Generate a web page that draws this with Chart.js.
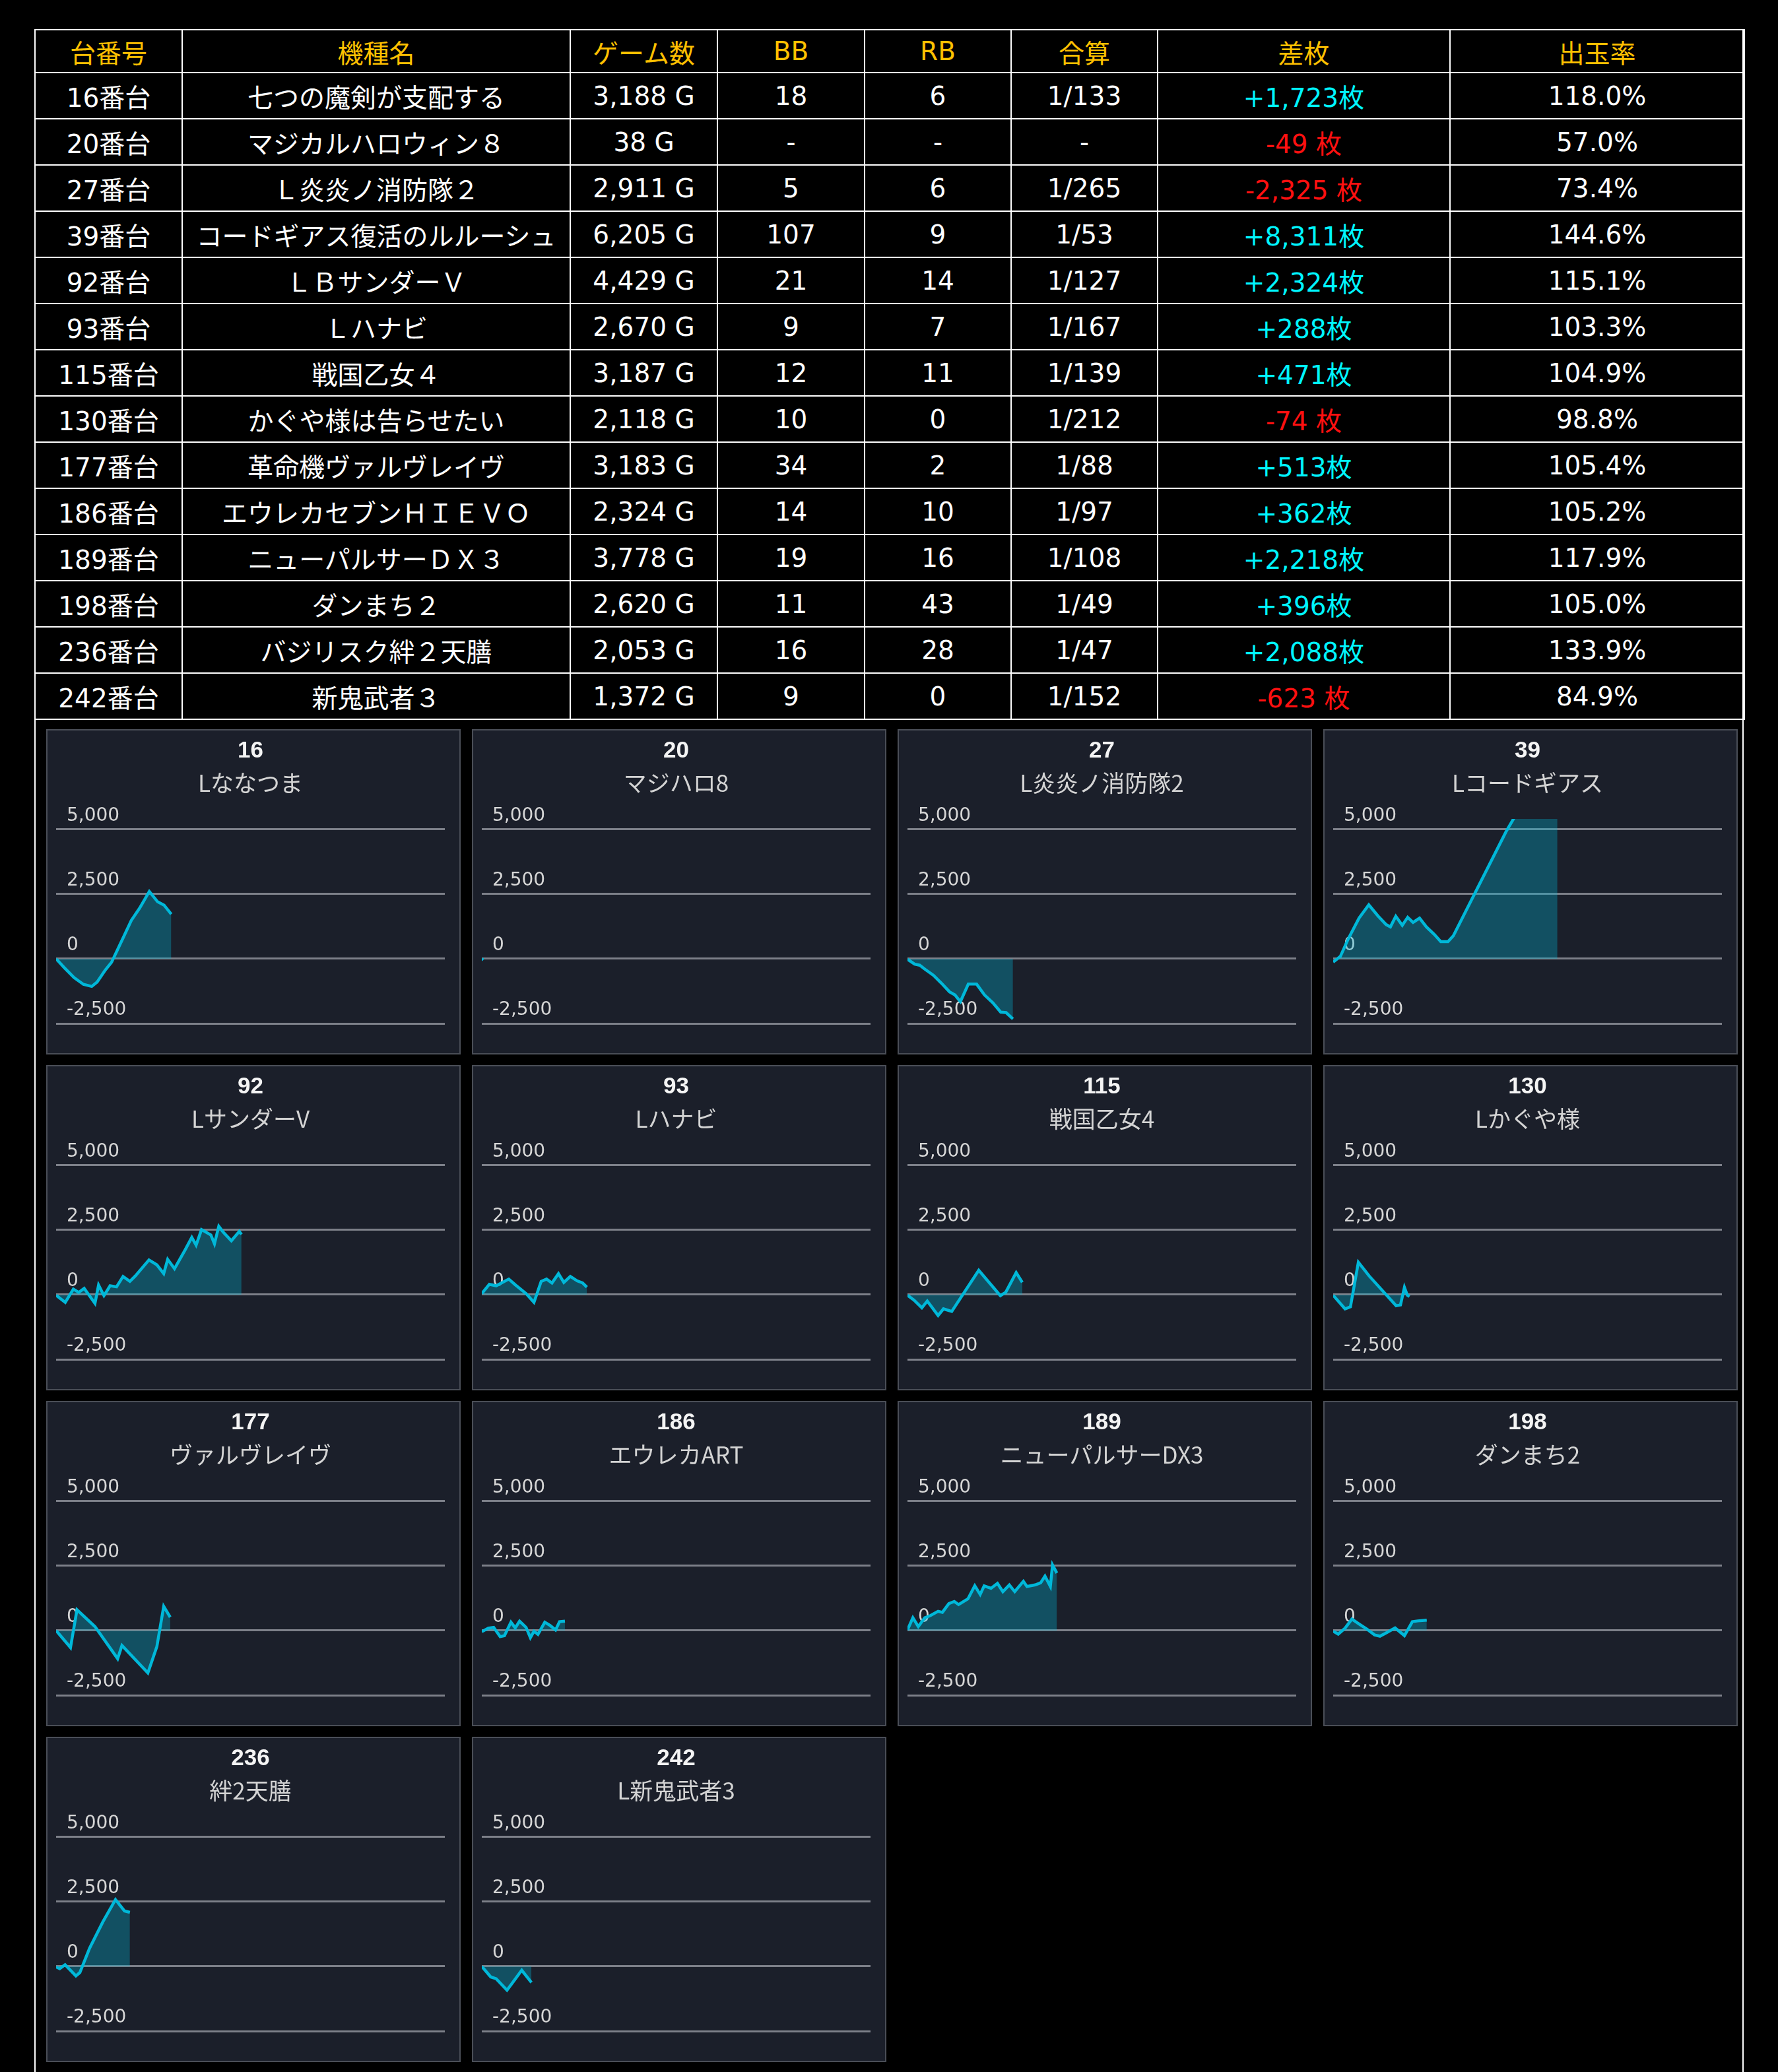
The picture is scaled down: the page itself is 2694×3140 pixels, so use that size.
<!DOCTYPE html>
<html lang="ja">
<head>
<meta charset="UTF-8">
<title>台データ</title>
<script src="https://cdn.jsdelivr.net/npm/chart.js"></script>
<style>
  body { margin: 0; background: #000; }
  #frame {
    position: absolute; left: 52px; top: 44px; width: 2590px; height: 3200px;
    box-sizing: border-box; border-left: 2px solid #fff; border-right: 2px solid #fff;
  }
  #tbl {
    position: absolute; left: 52px; top: 44px; width: 2590px;
    border-collapse: collapse; table-layout: fixed;
    font-family: 'DejaVu Sans', 'Noto Sans CJK JP', sans-serif; font-size: 39px; color: #fff;
  }
  #tbl td, #tbl th {
    border: 2px solid #fff; text-align: center; vertical-align: middle;
    padding: 0; white-space: nowrap; font-weight: normal;
  }
  #tbl th { color: #ffc000; height: 63px; }
  #tbl td { height: 68px; }
  .plus { color: #00f5ff; }
  .minus { color: #ff1010; }
  #grid {
    position: absolute; left: 70px; top: 1105px;
    display: grid; grid-template-columns: repeat(4, 628px); grid-auto-rows: 493px;
    column-gap: 17px; row-gap: 16px;
  }
  .panel { box-sizing: border-box; border: 2px solid #4a4e57; background: #1b1f2a; }
  .panel canvas { display: block; }
</style>
</head>
<body>
<div id="frame"></div>
<table id="tbl">
  <colgroup>
    <col style="width:223px"><col style="width:588px"><col style="width:223px"><col style="width:223px">
    <col style="width:222px"><col style="width:222px"><col style="width:443px"><col style="width:446px">
  </colgroup>
  <thead><tr id="head"></tr></thead>
  <tbody id="body"></tbody>
</table>
<div id="grid"></div>

<script>
// テーブル
const headers = ['台番号', '機種名', 'ゲーム数', 'BB', 'RB', '合算', '差枚', '出玉率'];
const machineNo = [16, 20, 27, 39, 92, 93, 115, 130, 177, 186, 189, 198, 236, 242];
const machineName = ['七つの魔剣が支配する', 'マジカルハロウィン８', 'Ｌ炎炎ノ消防隊２', 'コードギアス復活のルルーシュ',
  'ＬＢサンダーＶ', 'Ｌハナビ', '戦国乙女４', 'かぐや様は告らせたい', '革命機ヴァルヴレイヴ',
  'エウレカセブンＨＩＥＶＯ', 'ニューパルサーＤＸ３', 'ダンまち２', 'バジリスク絆２天膳', '新鬼武者３'];
const games = [3188, 38, 2911, 6205, 4429, 2670, 3187, 2118, 3183, 2324, 3778, 2620, 2053, 1372];
const bb = ['18', '-', '5', '107', '21', '9', '12', '10', '34', '14', '19', '11', '16', '9'];
const rb = ['6', '-', '6', '9', '14', '7', '11', '0', '2', '10', '16', '43', '28', '0'];
const combined = ['1/133', '-', '1/265', '1/53', '1/127', '1/167', '1/139', '1/212', '1/88', '1/97', '1/108', '1/49', '1/47', '1/152'];
const diff = [1723, -49, -2325, 8311, 2324, 288, 471, -74, 513, 362, 2218, 396, 2088, -623];
const payout = [118.0, 57.0, 73.4, 144.6, 115.1, 103.3, 104.9, 98.8, 105.4, 105.2, 117.9, 105.0, 133.9, 84.9];

// グラフ（ゲーム数, 差枚）
const shortName = ['Lななつま', 'マジハロ8', 'L炎炎ノ消防隊2', 'Lコードギアス', 'LサンダーV', 'Lハナビ', '戦国乙女4',
  'Lかぐや様', 'ヴァルヴレイヴ', 'エウレカART', 'ニューパルサーDX3', 'ダンまち2', '絆2天膳', 'L新鬼武者3'];
const s16 = [[0,0],[230,-350],[500,-730],[760,-990],[990,-1070],[1140,-900],[1370,-430],[1540,-140],[1830,710],[2090,1480],[2320,1950],[2590,2600],[2820,2200],[3000,2070],[3200,1723]];
const s20 = [[0,0],[40,-49]];
const s27 = [[0,-20],[200,-210],[340,-250],[490,-410],[720,-640],[940,-940],[1170,-1280],[1320,-1400],[1470,-1660],[1690,-980],[1920,-980],[2140,-1400],[2370,-1700],[2590,-2060],[2740,-2080],[2930,-2325]];
const s39 = [[0,-130],[200,90],[420,770],[720,1570],[990,2080],[1240,1660],[1470,1320],[1590,1230],[1740,1640],[1920,1290],[2070,1600],[2220,1400],[2400,1570],[2590,1230],[2810,940],[2990,660],[3190,660],[3340,890],[4800,4900],[6230,8311]];
const s92 = [[0,-25],[255,-300],[480,210],[630,85],[780,240],[1080,-340],[1180,370],[1330,-40],[1500,340],[1680,300],[1860,700],[2050,510],[2200,720],[2580,1340],[2800,1150],[2990,810],[3100,1360],[3290,1000],[3590,1740],[3770,2210],[3890,1910],[4040,2510],[4300,2300],[4400,1960],[4520,2640],[4640,2420],[4870,2080],[5090,2440],[5150,2324]];
const s93 = [[0,40],[210,400],[400,340],[750,600],[930,380],[1230,40],[1450,-300],[1650,510],[1800,600],[1950,450],[2130,810],[2280,470],[2460,700],[2650,530],[2800,450],[2920,288]];
const s115 = [[0,-25],[180,-210],[400,-510],[550,-250],[850,-810],[1000,-550],[1230,-650],[1980,940],[2580,-40],[2730,90],[3020,850],[3190,471]];
const s130 = [[0,-25],[330,-550],[480,-470],[700,1250],[1000,720],[1750,-430],[1870,-400],[1980,280],[2060,-20],[2120,-74]];
const s177 = [[0,0],[400,-660],[580,800],[1080,150],[1710,-1090],[1830,-580],[2550,-1640],[2800,-620],[2990,930],[3170,513]];
const s186 = [[0,-50],[180,90],[330,120],[510,-240],[630,-200],[810,320],[930,100],[1050,360],[1230,120],[1350,-280],[1450,-30],[1560,-150],[1750,320],[1900,190],[2050,20],[2160,340],[2310,362]];
const s189 = [[0,20],[150,490],[300,150],[480,490],[630,570],[850,740],[970,700],[1150,1040],[1300,1120],[1420,1000],[1680,1220],[1870,1730],[2020,1390],[2130,1720],[2320,1630],[2500,1820],[2650,1500],[2830,1760],[2980,1500],[3220,1900],[3320,1700],[3550,1760],[3700,1840],[3820,2100],[3970,1700],[4030,2530],[4150,2218]];
const s198 = [[0,-25],[140,-140],[330,90],[520,440],[700,270],[930,60],[1150,-170],[1300,-220],[1450,-110],[1720,100],[1980,-200],[2200,340],[2350,370],[2600,396]];
const s236 = [[0,-25],[100,-90],[250,60],[550,-370],[660,-240],[930,700],[1300,1720],[1650,2580],[1900,2140],[2050,2088]];
const s242 = [[0,0],[250,-410],[400,-480],[700,-920],[930,-490],[1110,-150],[1380,-623]];
const series = [s16, s20, s27, s39, s92, s93, s115, s130, s177, s186, s189, s198, s236, s242];

const yTicks = [-2500, 0, 2500, 5000];
const yMin = -2500, yMax = 5400;
const xMax = 10800;

// テーブル作成
const fmt = n => n.toLocaleString('en-US');
document.getElementById('head').innerHTML = headers.map(h => '<th>' + h + '</th>').join('');
let rows = '';
machineNo.forEach((no, i) => {
  const d = diff[i];
  const diffTxt = d >= 0 ? '<td class="plus">+' + fmt(d) + '枚</td>' : '<td class="minus">' + fmt(d) + ' 枚</td>';
  rows += '<tr><td>' + no + '番台</td><td>' + machineName[i] + '</td><td>' + fmt(games[i]) + ' G</td>' +
    '<td>' + bb[i] + '</td><td>' + rb[i] + '</td><td>' + combined[i] + '</td>' + diffTxt +
    '<td>' + payout[i].toFixed(1) + '%</td></tr>';
});
document.getElementById('body').innerHTML = rows;

// グラフ作成
const grid = document.getElementById('grid');
machineNo.forEach((no, i) => {
  const panel = document.createElement('div');
  panel.className = 'panel';
  const cv = document.createElement('canvas');
  cv.width = 624;
  cv.height = 489;
  panel.appendChild(cv);
  grid.appendChild(panel);

  new Chart(cv, {
    type: 'line',
    data: {
      datasets: [{
        data: series[i].map(p => ({ x: p[0], y: p[1] })),
        borderColor: '#00b8d9',
        borderWidth: 4.5,
        backgroundColor: 'rgba(0, 184, 217, 0.32)',
        fill: 'origin',
        pointRadius: 0,
        tension: 0
      }]
    },
    options: {
      responsive: false,
      animation: false,
      layout: { padding: { left: 13, right: 22, top: 0, bottom: 45 } },
      plugins: {
        legend: { display: false },
        tooltip: { enabled: false },
        title: {
          display: true, text: String(no), color: '#f4f4f4',
          font: { family: "'Liberation Sans', Arial, sans-serif", size: 35, weight: 'bold' },
          padding: { top: 10, bottom: 3 }
        },
        subtitle: {
          display: true, text: shortName[i], color: '#d4d4d4',
          font: { family: "'Noto Sans CJK JP', sans-serif", size: 35 },
          padding: { top: 4, bottom: 33 }
        }
      },
      scales: {
        x: { type: 'linear', min: 0, max: xMax, display: false },
        y: {
          min: yMin, max: yMax,
          afterBuildTicks: axis => { axis.ticks = yTicks.map(v => ({ value: v })); },
          afterFit: axis => { axis.width = 0; axis.paddingTop = 0; axis.paddingBottom = 0; },
          border: { display: false },
          grid: { color: '#7d8089', lineWidth: 3, drawTicks: false },
          ticks: {
            mirror: true, padding: 16, labelOffset: -20, color: '#d6d6d6',
            font: { family: "'DejaVu Sans', sans-serif", size: 28 },
            callback: v => fmt(v)
          }
        }
      }
    }
  });
});
</script>
</body>
</html>
